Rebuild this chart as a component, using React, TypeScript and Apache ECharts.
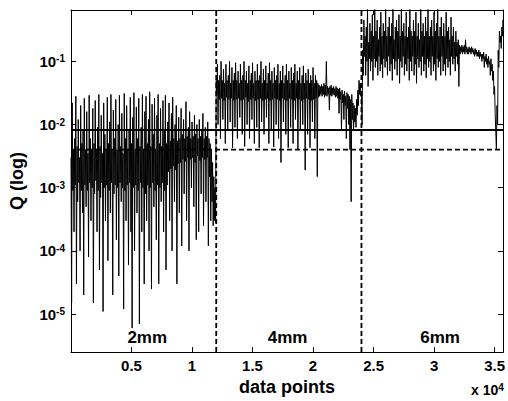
import React, { useEffect, useRef } from 'react';
import * as echarts from 'echarts';

// Each bin covers STEP data points; the signal is plotted as the max (hi) and min (lo) of every bin.
const STEP = 100;

// 2mm segment (0 .. 1.19e4)
const hi2mm = [
  3e-3, 2.2e-2, 4e-3, 6e-3, 2.8e-2, 4.5e-3, 1.2e-2, 3e-3, 2e-2, 5e-3,
  8e-3, 2.6e-2, 4e-3, 1.6e-2, 3.5e-3, 2.9e-2, 6e-3, 4e-3, 1.8e-2, 5e-3,
  2.4e-2, 4e-3, 9e-3, 3e-2, 4.5e-3, 1.4e-2, 3.5e-3, 2.2e-2, 7e-3, 4e-3,
  2.7e-2, 5e-3, 1.1e-2, 3e-2, 4e-3, 1.7e-2, 6e-3, 2.5e-2, 4e-3, 1e-2,
  2.9e-2, 4.5e-3, 1.5e-2, 3.5e-3, 3.1e-2, 6e-3, 2e-2, 4e-3, 8e-3, 2.7e-2,
  5e-3, 1.3e-2, 3.2e-2, 4e-3, 1.9e-2, 6e-3, 2.6e-2, 4.5e-3, 9e-3, 3e-2,
  4e-3, 1.6e-2, 2.8e-2, 5e-3, 1.2e-2, 3.3e-2, 4.5e-3, 2.1e-2, 7e-3, 2.6e-2,
  4e-3, 1.4e-2, 3e-2, 5e-3, 1.8e-2, 4.5e-3, 2.4e-2, 8e-3, 2.9e-2, 5e-3,
  1.1e-2, 2.2e-2, 5.5e-3, 1.5e-2, 2.7e-2, 6e-3, 1e-2, 2e-2, 5.5e-3, 1.3e-2,
  6e-3, 1.8e-2, 7e-3, 1.2e-2, 6e-3, 2.3e-2, 6.5e-3, 9e-3, 1.6e-2, 6e-3,
  1.1e-2, 6.5e-3, 1.4e-2, 7e-3, 1e-2, 6e-3, 1.2e-2, 6.5e-3, 8e-3, 1.5e-2,
  6e-3, 9e-3, 6.5e-3, 1.1e-2, 6e-3, 5e-3, 4e-3, 2.5e-3, 1.5e-3, 1e-3,
];
const lo2mm = [
  1.5e-5, 9e-4, 2e-4, 1.1e-3, 3e-5, 6e-4, 1.2e-3, 1e-4, 9e-4, 4e-4,
  2e-5, 1.1e-3, 5e-4, 9e-4, 8e-5, 1.2e-3, 3e-4, 1e-3, 1.5e-5, 8e-4,
  1.3e-3, 2e-4, 9e-4, 5e-5, 7e-4, 1.2e-3, 1.1e-5, 1e-3, 3e-4, 1.1e-3,
  7e-5, 9e-4, 4e-4, 1.2e-3, 2e-5, 8e-4, 1.1e-3, 1.5e-4, 1e-3, 4e-5,
  1.2e-3, 6e-4, 1e-3, 1.2e-5, 9e-4, 3e-4, 1.1e-3, 6e-5, 1.2e-3, 2e-4,
  6e-6, 1e-3, 1e-4, 1.1e-3, 4e-4, 9e-4, 7e-6, 1.2e-3, 2e-4, 1e-3,
  3e-5, 8e-4, 3e-4, 1.1e-3, 1e-4, 1e-3, 2.5e-5, 1.2e-3, 5e-4, 9e-4,
  1.5e-4, 1.1e-3, 3e-5, 1e-3, 6e-4, 1.2e-3, 2e-4, 9e-4, 5e-5, 1.1e-3,
  1.8e-3, 3e-4, 2e-3, 1e-4, 2.2e-3, 6e-4, 1.9e-3, 3e-5, 2.4e-3, 4e-4,
  2.5e-3, 1.2e-4, 2.8e-3, 8e-4, 2.6e-3, 3e-4, 3e-3, 1e-4, 2.8e-3, 1e-3,
  3e-3, 5e-4, 2.5e-3, 1.5e-4, 3.2e-3, 2e-4, 2.7e-3, 8e-4, 3e-3, 2.5e-4,
  2.8e-3, 6e-4, 3e-3, 1.2e-4, 1.5e-3, 3e-4, 6e-4, 2.5e-4, 3e-4, 2.8e-4,
];

// 4mm segment (1.2e4 .. 2.39e4)
const hi4mm = [
  5e-2, 9e-2, 5e-2, 6e-2, 1e-1, 5e-2, 7.5e-2, 4.5e-2, 9e-2, 5e-2,
  6e-2, 1e-1, 4.5e-2, 8e-2, 5e-2, 6.5e-2, 9.5e-2, 5e-2, 7e-2, 4.5e-2,
  9e-2, 5e-2, 6e-2, 1e-1, 5e-2, 7e-2, 4.5e-2, 8.5e-2, 5e-2, 6.5e-2,
  9.5e-2, 4.5e-2, 7e-2, 5e-2, 9e-2, 5e-2, 6e-2, 1e-1, 4.5e-2, 7.5e-2,
  5e-2, 8.5e-2, 4.5e-2, 6.5e-2, 9.5e-2, 5e-2, 7e-2, 4.5e-2, 8e-2, 5e-2,
  6e-2, 9e-2, 4.5e-2, 7e-2, 5e-2, 8.5e-2, 4.5e-2, 6e-2, 9e-2, 5e-2,
  7e-2, 4.5e-2, 8e-2, 5e-2, 6.5e-2, 9e-2, 4.5e-2, 7e-2, 5e-2, 8e-2,
  4.5e-2, 6e-2, 8.5e-2, 4.5e-2, 6.5e-2, 5e-2, 7.5e-2, 4.5e-2, 6e-2, 5e-2,
  8e-2, 4.5e-2, 6e-2, 5e-2, 4.5e-2, 4.2e-2, 4e-2, 4.3e-2, 4e-2, 4.5e-2,
  4.2e-2, 1e-1, 4e-2, 3.8e-2, 4e-2, 4.2e-2, 3.8e-2, 4e-2, 3.7e-2, 4e-2,
  3.8e-2, 3.6e-2, 3.8e-2, 3.3e-2, 3.5e-2, 3e-2, 3.4e-2, 2.8e-2, 3.2e-2, 3e-2,
  2.8e-2, 2.5e-2, 3e-2, 2.2e-2, 2e-2, 1.8e-2, 2.5e-2, 3.5e-2, 5e-2, 4.5e-2,
];
const lo4mm = [
  3e-2, 1e-2, 2.5e-2, 6e-3, 2.6e-2, 1.2e-2, 2.4e-2, 5e-3, 2.7e-2, 8e-3,
  2.5e-2, 1.1e-2, 2.6e-2, 4.3e-3, 2.4e-2, 9e-3, 2.5e-2, 6e-3, 2.6e-2, 1.3e-2,
  2.4e-2, 7e-3, 2.5e-2, 4.5e-3, 2.7e-2, 1e-2, 2.3e-2, 6e-3, 2.5e-2, 1.2e-2,
  2.6e-2, 5e-3, 2.4e-2, 9e-3, 2.5e-2, 4.3e-3, 2.6e-2, 1.1e-2, 2.4e-2, 7e-3,
  2.5e-2, 1.3e-2, 2.6e-2, 5e-3, 2.4e-2, 8e-3, 2.5e-2, 4.4e-3, 2.6e-2, 1e-2,
  2.5e-2, 6e-3, 2.4e-2, 2.5e-3, 2.6e-2, 1.1e-2, 2.5e-2, 7e-3, 2.4e-2, 4.3e-3,
  2.6e-2, 9e-3, 2.5e-2, 5e-3, 2.4e-2, 1.2e-2, 2.6e-2, 4e-3, 2.5e-2, 8e-3,
  2.4e-2, 1e-2, 2.5e-2, 1.9e-3, 2.6e-2, 7e-3, 2.5e-2, 4.3e-3, 2.4e-2, 1.1e-2,
  2.5e-2, 6e-3, 2.6e-2, 1.5e-3, 2.7e-2, 2.8e-2, 3e-2, 2.8e-2, 3e-2, 2.7e-2,
  2.9e-2, 2.8e-2, 3e-2, 1.7e-2, 2.9e-2, 2.8e-2, 3e-2, 2.9e-2, 2.7e-2, 2.8e-2,
  2.6e-2, 1.5e-2, 2.5e-2, 8e-3, 2.2e-2, 1.2e-2, 2e-2, 6e-3, 1.8e-2, 1e-2,
  4e-3, 6e-4, 1.2e-2, 8e-3, 1.1e-2, 9e-3, 1.4e-2, 2e-2, 3e-2, 2.8e-2,
];

// 6mm segment (2.4e4 .. 3.57e4)
const hi6mm = [
  3e-2, 1.5e-1, 4.5e-1, 2.5e-1, 3.5e-1, 7e-1, 2e-1, 4e-1, 3e-1, 5.5e-1,
  2.5e-1, 7e-1, 3e-1, 4.5e-1, 2.2e-1, 3.5e-1, 6e-1, 2.5e-1, 4e-1, 3e-1,
  7e-1, 2.5e-1, 3.5e-1, 5e-1, 2.5e-1, 4e-1, 7e-1, 2.2e-1, 3.5e-1, 4.5e-1,
  3e-1, 5.5e-1, 2.5e-1, 7e-1, 3e-1, 4e-1, 2.5e-1, 6e-1, 2.4e-1, 3.5e-1,
  7e-1, 3e-1, 2.5e-1, 4.5e-1, 3e-1, 6e-1, 2.5e-1, 4e-1, 2.2e-1, 7e-1,
  3e-1, 4e-1, 2.5e-1, 5e-1, 3e-1, 7e-1, 2.5e-1, 3.5e-1, 4.5e-1, 2.5e-1,
  6e-1, 3e-1, 4e-1, 7e-1, 2.5e-1, 3.5e-1, 5e-1, 2.5e-1, 4e-1, 2.5e-1,
  6e-1, 3e-1, 3.5e-1, 2.2e-1, 5e-1, 2.5e-1, 3.5e-1, 2e-1, 3e-1, 2e-1,
  2.2e-1, 1.8e-1, 1.7e-1, 1.8e-1, 1.7e-1, 1.8e-1, 2.2e-1, 1.7e-1, 1.6e-1, 1.7e-1,
  1.6e-1, 1.7e-1, 1.6e-1, 1.5e-1, 1.6e-1, 1.5e-1, 1.4e-1, 1.5e-1, 1.4e-1, 1.3e-1,
  1.3e-1, 1.4e-1, 1.2e-1, 1.3e-1, 1.1e-1, 1.2e-1, 1e-1, 1.1e-1, 9e-2, 7e-2,
  4e-2, 1.5e-2, 2e-2, 1.5e-1, 3e-1, 2.5e-1, 3.5e-1, 4.5e-1,
];
const lo6mm = [
  1e-2, 6e-2, 1.2e-1, 6e-2, 1e-1, 4e-2, 1.1e-1, 7e-2, 1e-1, 5e-2,
  1.1e-1, 8e-2, 1e-1, 6e-2, 1.2e-1, 7e-2, 9e-2, 5.5e-2, 1.1e-1, 8e-2,
  1e-1, 6e-2, 1.2e-1, 7e-2, 9e-2, 5e-2, 1.1e-1, 7.5e-2, 1e-1, 6e-2,
  1.1e-1, 4.5e-2, 1e-1, 8e-2, 1.2e-1, 6e-2, 9e-2, 7e-2, 1.1e-1, 5e-2,
  1e-1, 7e-2, 1.2e-1, 6e-2, 9e-2, 4.5e-2, 1.1e-1, 8e-2, 1e-1, 6e-2,
  1.2e-1, 7e-2, 9e-2, 5.5e-2, 1.1e-1, 8e-2, 1e-1, 6e-2, 1.2e-1, 7e-2,
  9e-2, 5e-2, 1.1e-1, 8e-2, 1e-1, 6e-2, 1.2e-1, 7e-2, 9e-2, 6e-2,
  1.1e-1, 8e-2, 1e-1, 6e-2, 1.2e-1, 9e-2, 1.1e-1, 7e-2, 1.2e-1, 9e-2,
  4e-2, 1.3e-1, 1.4e-1, 1.3e-1, 1.4e-1, 1.3e-1, 1.4e-1, 1.3e-1, 1.3e-1, 1.4e-1,
  1.3e-1, 1.4e-1, 1.3e-1, 1.2e-1, 1.3e-1, 1.2e-1, 1.2e-1, 1.1e-1, 1.2e-1, 1e-1,
  1.1e-1, 8e-2, 1e-1, 9e-2, 8e-2, 9e-2, 6e-2, 7e-2, 5e-2, 3e-2,
  1.5e-2, 4e-3, 1e-2, 8e-2, 2e-1, 1.6e-1, 2.5e-1, 3e-1,
];

const SEGMENT_NAMES = ['2mm', '4mm', '6mm'];
const SEGMENT_LABEL_X = [6300, 17900, 30500];
const SEGMENT_LABEL_Y = 4.3e-6;
const BOUNDARIES = [12000, 24000];
const SOLID_LEVEL = 8.2e-3;
const DASHED_LEVEL = 4e-3;

const X_MIN = 0;
const X_MAX = 35700;
const X_INTERVAL = 5000;
const Y_MIN = 2.5e-6;
const Y_MAX = 0.65;

const FONT = '"Liberation Sans", Arial, Helvetica, sans-serif';

export default function App() {
  const ref = useRef<HTMLDivElement>(null);

  useEffect(() => {
    if (!ref.current) return;
    const chart = echarts.init(ref.current, undefined, { renderer: 'svg' });
    const hi = [...hi2mm, ...hi4mm, ...hi6mm];
    const lo = [...lo2mm, ...lo4mm, ...lo6mm];
    const lineData: number[][] = [];
    hi.forEach((h, k) => {
      lineData.push([k * STEP, h]);
      lineData.push([k * STEP + STEP / 2, lo[k]]);
    });

    const yLabel = (v: number) => {
      const e = Math.log10(v);
      const r = Math.round(e);
      if (Math.abs(e - r) > 1e-6) return '';
      return `{b|10}{s|${r}}`;
    };
    const yRich = {
      b: { fontSize: 15, fontWeight: 'bold', fontFamily: FONT, color: '#000' },
      s: { fontSize: 10, fontWeight: 'bold', fontFamily: FONT, color: '#000', verticalAlign: 'top' },
    };
    const axisLine = { show: true, onZero: false, lineStyle: { color: '#000', width: 1 } };
    const tick = { show: true, inside: true, length: 5, lineStyle: { color: '#000' } };
    const refLine = (data: number[][], dashed: boolean) => ({
      type: 'line',
      data,
      xAxisIndex: 0,
      yAxisIndex: 0,
      showSymbol: false,
      symbol: 'none',
      silent: true,
      z: 3,
      lineStyle: { color: '#000', width: dashed ? 1.8 : 2, type: dashed ? [5, 3] : 'solid' },
    });

    chart.setOption({
      animation: false,
      backgroundColor: '#fff',
      grid: { left: 71, right: 4, top: 10, bottom: 45, containLabel: false },
      xAxis: [
        {
          type: 'value',
          min: X_MIN,
          max: X_MAX,
          interval: X_INTERVAL,
          axisLine,
          axisTick: tick,
          splitLine: { show: false },
          axisLabel: {
            margin: 6,
            color: '#000',
            fontSize: 15,
            fontWeight: 'bold',
            fontFamily: FONT,
            formatter: (v: number) => (v > 0 && v % X_INTERVAL === 0 ? String(v / 10000) : ''),
          },
          name: 'data points',
          nameLocation: 'middle',
          nameGap: 22,
          nameTextStyle: { color: '#000', fontSize: 18, fontWeight: 'bold', fontFamily: FONT },
        },
        {
          type: 'value',
          position: 'top',
          min: X_MIN,
          max: X_MAX,
          interval: X_INTERVAL,
          axisLine,
          axisTick: tick,
          axisLabel: { show: false },
          splitLine: { show: false },
        },
      ],
      yAxis: [
        {
          type: 'log',
          min: Y_MIN,
          max: Y_MAX,
          axisLine,
          axisTick: tick,
          splitLine: { show: false },
          axisLabel: { margin: 6, formatter: yLabel, rich: yRich },
          name: 'Q (log)',
          nameLocation: 'middle',
          nameGap: 45,
          nameTextStyle: { color: '#000', fontSize: 18, fontWeight: 'bold', fontFamily: FONT },
        },
        {
          type: 'log',
          position: 'right',
          min: Y_MIN,
          max: Y_MAX,
          axisLine,
          axisTick: tick,
          axisLabel: { show: false },
          splitLine: { show: false },
        },
      ],
      series: [
        {
          type: 'line',
          data: lineData,
          xAxisIndex: 0,
          yAxisIndex: 0,
          showSymbol: false,
          symbol: 'none',
          clip: true,
          silent: true,
          lineStyle: { color: '#000', width: 1 },
        },
        refLine([[X_MIN, SOLID_LEVEL], [X_MAX, SOLID_LEVEL]], false),
        refLine([[X_MIN, DASHED_LEVEL], [X_MAX, DASHED_LEVEL]], true),
        ...BOUNDARIES.map((b) => refLine([[b, Y_MIN], [b, Y_MAX]], true)),
        {
          type: 'scatter',
          xAxisIndex: 0,
          yAxisIndex: 0,
          symbolSize: 0,
          silent: true,
          z: 4,
          itemStyle: { opacity: 1, color: '#000' },
          data: SEGMENT_LABEL_X.map((x) => [x, SEGMENT_LABEL_Y]),
          label: {
            show: true,
            position: 'inside',
            formatter: (p: any) => SEGMENT_NAMES[p.dataIndex],
            color: '#000',
            opacity: 1,
            fontSize: 17,
            fontWeight: 'bold',
            fontFamily: FONT,
          },
        },
      ],
      graphic: [
        {
          type: 'text',
          x: 471,
          y: 382,
          style: {
            text: '{b|x 10}{s|4}',
            rich: {
              b: { fontSize: 14, lineHeight: 16, fontWeight: 'bold', fontFamily: FONT, fill: '#000' },
              s: { fontSize: 10, lineHeight: 12, fontWeight: 'bold', fontFamily: FONT, fill: '#000', verticalAlign: 'top' },
            },
          },
        },
      ],
    });
    return () => chart.dispose();
  }, []);

  return (
    <div
      ref={ref}
      style={{ position: 'absolute', left: 0, top: 0, width: 508, height: 401 }}
    />
  );
}
